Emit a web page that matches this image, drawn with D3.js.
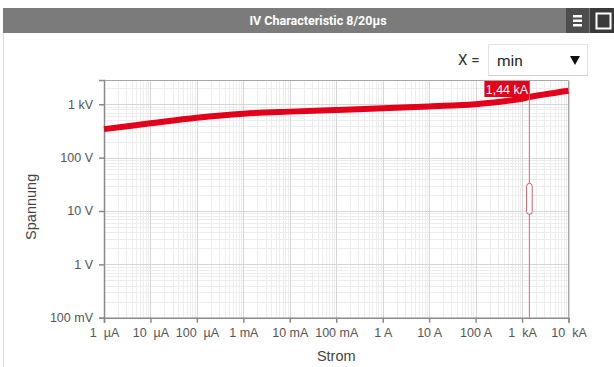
<!DOCTYPE html>
<html>
<head>
<meta charset="utf-8">
<script src="https://cdn.jsdelivr.net/npm/d3@7"></script>
<style>
  html, body { margin: 0; padding: 0; background: #fff; }
  svg { display: block; }
  text { white-space: pre; }
</style>
</head>
<body>
<svg id="chart" width="614" height="367"></svg>
<script>
// IV characteristic (8/20 µs pulse): current in A, clamping voltage in V
const currentA = [1e-6, 1e-5, 1e-4, 1e-3, 1e-2, 1e-1, 1, 10, 100, 1000, 1440, 10000];
const voltageV = [342, 440, 560, 665, 728, 782, 838, 913, 1005, 1273, 1370, 1790];

const xTickValues = [1e-6, 1e-5, 1e-4, 1e-3, 1e-2, 1e-1, 1, 10, 100, 1000, 10000];
const xTickLabels = ["1  µA", "10  µA", "100  µA", "1 mA", "10 mA", "100 mA", "1 A", "10 A", "100 A", "1  kA", "10  kA"];
const yTickValues = [0.1, 1, 10, 100, 1000];
const yTickLabels = ["100 mV", "1 V", "10 V", "100 V", "1 kV"];

const cursorCurrent = 1440;
const cursorLabel = "1,44 kA";
const titleText = "IV Characteristic 8/20µs";
const xTitle = "Strom";
const yTitle = "Spannung";
const selectLabel = "X =";
const selectValue = "min";

const svg = d3.select("#chart");
const W = 614, H = 367;
const plot = { left: 104, right: 568.5, top: 80, bottom: 317.7 };
const red = "#e2001a";

// panel frame and header bar
svg.append("rect").attr("x", 3.5).attr("y", 8.5).attr("width", W).attr("height", H)
  .attr("fill", "#fff").attr("stroke", "#dcdcdc");
svg.append("rect").attr("x", 3).attr("y", 8).attr("width", W - 3).attr("height", 25).attr("fill", "#7b7b7b");
svg.append("text").attr("x", 318).attr("y", 25).attr("text-anchor", "middle")
  .attr("font-family", "Roboto, 'Liberation Sans', sans-serif").attr("font-weight", "bold")
  .attr("font-size", 12.5).attr("fill", "#fff").text(titleText);

// header buttons
svg.append("rect").attr("x", 566).attr("y", 8).attr("width", 23).attr("height", 25).attr("fill", "#4d4d4d");
[15, 19.5, 24].forEach(yy => {
  svg.append("rect").attr("x", 573).attr("y", yy).attr("width", 9).attr("height", 2.5).attr("fill", "#fff");
});
svg.append("rect").attr("x", 590).attr("y", 8).attr("width", 24).attr("height", 25).attr("fill", "#3a3a3a");
svg.append("rect").attr("x", 596.5).attr("y", 13.5).attr("width", 14).attr("height", 15)
  .attr("fill", "#3a3a3a").attr("stroke", "#fff").attr("stroke-width", 2);

// selector
svg.append("text").attr("x", 458).attr("y", 65).attr("font-family", "Roboto, 'Liberation Sans', sans-serif")
  .attr("font-size", 15).attr("fill", "#333").text(selectLabel);
svg.append("rect").attr("x", 488.5).attr("y", 44.5).attr("width", 99).attr("height", 31)
  .attr("fill", "#fff").attr("stroke", "#e2e2e2");
svg.append("line").attr("x1", 489).attr("x2", 588).attr("y1", 75.5).attr("y2", 75.5).attr("stroke", "#d0d0d0");
svg.append("text").attr("x", 497).attr("y", 66).attr("font-family", "Roboto, 'Liberation Sans', sans-serif")
  .attr("font-size", 15.5).attr("fill", "#222").text(selectValue);
svg.append("path").attr("d", "M570,56 L580,56 L575,65 Z").attr("fill", "#111");

// scales
const x = d3.scaleLog().domain([1e-6, 1e4]).range([plot.left, plot.right]);
const y = d3.scaleLog().domain([0.1, 2850]).range([plot.bottom, plot.top]);

// grid
const g = svg.append("g");
const minorX = [], majorX = [];
for (let e = -6; e <= 4; e++) {
  majorX.push(Math.pow(10, e));
  if (e < 4) for (let m = 2; m <= 9; m++) minorX.push(m * Math.pow(10, e));
}
const minorY = [], majorY = [];
for (let e = -1; e <= 3; e++) {
  majorY.push(Math.pow(10, e));
  for (let m = 2; m <= 9; m++) { const v = m * Math.pow(10, e); if (v <= 2850) minorY.push(v); }
}
g.selectAll(".mx").data(minorX).enter().append("line")
  .attr("x1", d => Math.round(x(d)) + 0.5).attr("x2", d => Math.round(x(d)) + 0.5)
  .attr("y1", plot.top).attr("y2", plot.bottom).attr("stroke", "#ededed");
g.selectAll(".my").data(minorY).enter().append("line")
  .attr("y1", d => Math.round(y(d)) + 0.5).attr("y2", d => Math.round(y(d)) + 0.5)
  .attr("x1", plot.left).attr("x2", plot.right).attr("stroke", "#ededed");
g.selectAll(".Mx").data(majorX).enter().append("line")
  .attr("x1", d => Math.round(x(d)) + 0.5).attr("x2", d => Math.round(x(d)) + 0.5)
  .attr("y1", plot.top).attr("y2", plot.bottom).attr("stroke", "#d6d6d6");
g.selectAll(".My").data(majorY).enter().append("line")
  .attr("y1", d => Math.round(y(d)) + 0.5).attr("y2", d => Math.round(y(d)) + 0.5)
  .attr("x1", plot.left).attr("x2", plot.right).attr("stroke", "#d6d6d6");

// plot frame (top/right)
svg.append("path")
  .attr("d", `M${plot.left},${plot.top + 0.5} H${plot.right} V${plot.bottom}`)
  .attr("fill", "none").attr("stroke", "#a8a8a8");

// axes
const xAxis = d3.axisBottom(x).tickValues(xTickValues)
  .tickFormat((d, i) => xTickLabels[i]).tickSize(5).tickPadding(5);
const yAxis = d3.axisLeft(y).tickValues(yTickValues)
  .tickFormat((d, i) => yTickLabels[i]).tickSize(5).tickPadding(6);

const gx = svg.append("g").attr("transform", `translate(0,${plot.bottom})`).call(xAxis);
const gy = svg.append("g").attr("transform", `translate(${plot.left},0)`).call(yAxis);
[gx, gy].forEach(a => {
  a.select(".domain").attr("stroke", "#8a8a8a").attr("stroke-width", 1.5);
  a.selectAll(".tick line").attr("stroke", "#8a8a8a").attr("stroke-width", 1.5);
  a.selectAll(".tick text").attr("fill", "#555").attr("font-size", 12.5)
    .attr("font-family", "'Liberation Sans', Arial, sans-serif");
});

// axis titles
svg.append("text").attr("x", (plot.left + plot.right) / 2).attr("y", 361).attr("text-anchor", "middle")
  .attr("font-family", "'Liberation Sans', Arial, sans-serif").attr("font-size", 14.5).attr("fill", "#444")
  .text(xTitle);
svg.append("text").attr("transform", `translate(36,${(plot.top + plot.bottom) / 2 + 8}) rotate(-90)`)
  .attr("text-anchor", "middle")
  .attr("font-family", "'Liberation Sans', Arial, sans-serif").attr("font-size", 14.5).attr("fill", "#444")
  .text(yTitle);

// curve
const pts = currentA.map((c, i) => [c, voltageV[i]]);
const line = d3.line().x(d => x(d[0])).y(d => y(d[1])).curve(d3.curveCatmullRom.alpha(0.5));
svg.append("path").datum(pts).attr("d", line)
  .attr("fill", "none").attr("stroke", red).attr("stroke-width", 6).attr("stroke-linecap", "butt");

// cursor
const cx = x(cursorCurrent);
svg.append("line").attr("x1", cx).attr("x2", cx).attr("y1", plot.top).attr("y2", plot.bottom)
  .attr("stroke", "#d87f86").attr("stroke-width", 1.2);
svg.append("rect").attr("x", cx - 2.8).attr("y", (plot.top + plot.bottom) / 2 - 15.5)
  .attr("width", 5.6).attr("height", 31).attr("rx", 2.8)
  .attr("fill", "#fff").attr("stroke", "#c9626b").attr("stroke-width", 1);
const labelW = 45;
svg.append("rect").attr("x", cx - labelW).attr("y", plot.top + 1).attr("width", labelW).attr("height", 16)
  .attr("fill", red);
svg.append("text").attr("x", cx - labelW / 2).attr("y", plot.top + 13.5).attr("text-anchor", "middle")
  .attr("font-family", "'Liberation Sans', Arial, sans-serif").attr("font-size", 12.5).attr("fill", "#fff")
  .text(cursorLabel);
</script>
</body>
</html>
